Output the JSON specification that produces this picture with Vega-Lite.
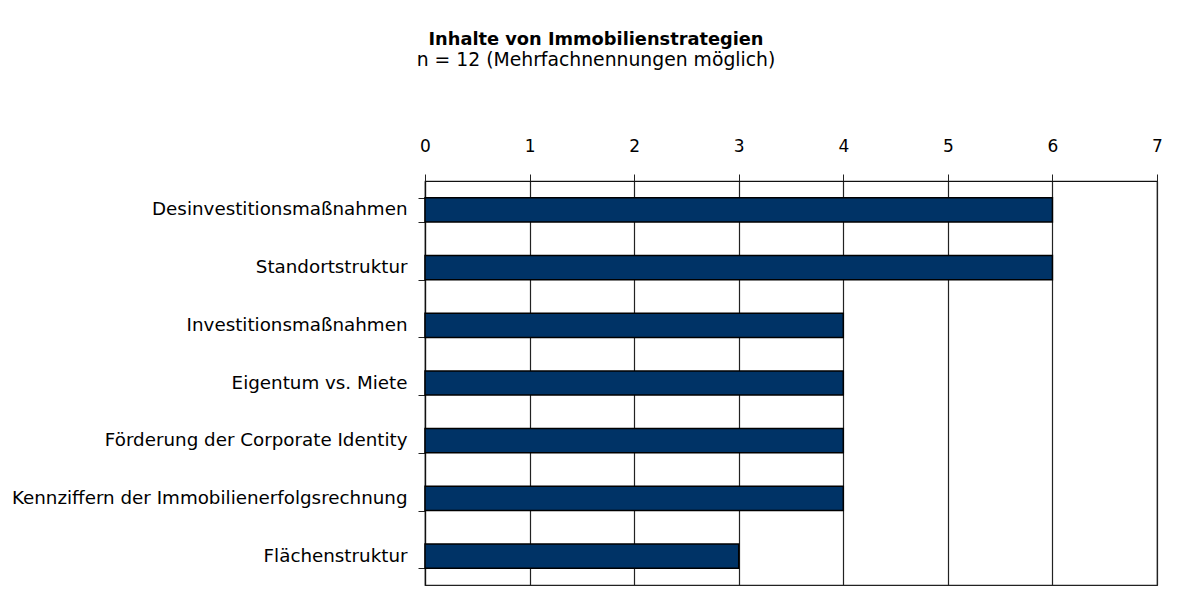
{
  "$schema": "https://vega.github.io/schema/vega-lite/v6.json",
  "width": 732,
  "height": 404,
  "autosize": {"type": "none"},
  "padding": {"left": 425, "top": 181, "right": 37, "bottom": 26},
  "background": "white",
  "title": {
    "text": "Inhalte von Immobilienstrategien",
    "subtitle": "n = 12 (Mehrfachnennungen möglich)",
    "anchor": "middle",
    "frame": "group",
    "dx": -195,
    "offset": 67,
    "font": "DejaVu Sans",
    "fontSize": 17.8,
    "fontWeight": "bold",
    "color": "black",
    "subtitleFont": "DejaVu Sans",
    "subtitleFontSize": 18.8,
    "subtitleColor": "black",
    "subtitlePadding": 2
  },
  "config": {
    "view": {"stroke": "#222", "strokeWidth": 1.2},
    "axis": {
      "labelFont": "DejaVu Sans",
      "labelFontSize": 17,
      "labelColor": "black",
      "labelLimit": 0,
      "domainColor": "#111",
      "tickColor": "#222",
      "tickSize": 7,
      "title": null
    }
  },
  "data": {
    "values": [
      {"kategorie": "Desinvestitionsmaßnahmen", "wert": 6},
      {"kategorie": "Standortstruktur", "wert": 6},
      {"kategorie": "Investitionsmaßnahmen", "wert": 4},
      {"kategorie": "Eigentum vs. Miete", "wert": 4},
      {"kategorie": "Förderung der Corporate Identity", "wert": 4},
      {"kategorie": "Kennziffern der Immobilienerfolgsrechnung", "wert": 4},
      {"kategorie": "Flächenstruktur", "wert": 3}
    ]
  },
  "mark": {"type": "bar", "fill": "#003366", "stroke": "black", "strokeWidth": 1.5},
  "encoding": {
    "y": {
      "field": "kategorie",
      "type": "nominal",
      "sort": null,
      "scale": {"paddingInner": 0.58, "paddingOuter": 0.29},
      "axis": {"tickBand": "extent", "labelPadding": 11, "labelFontSize": 18.3, "domainWidth": 1.2}
    },
    "x": {
      "field": "wert",
      "type": "quantitative",
      "scale": {"domain": [0, 7], "nice": false},
      "axis": {
        "orient": "top",
        "values": [0, 1, 2, 3, 4, 5, 6, 7],
        "grid": true,
        "gridColor": "#222",
        "gridOpacity": 1,
        "gridWidth": 1.2,
        "labelPadding": 19,
        "domainWidth": 1.2,
        "labelFlush": false
      }
    }
  }
}
